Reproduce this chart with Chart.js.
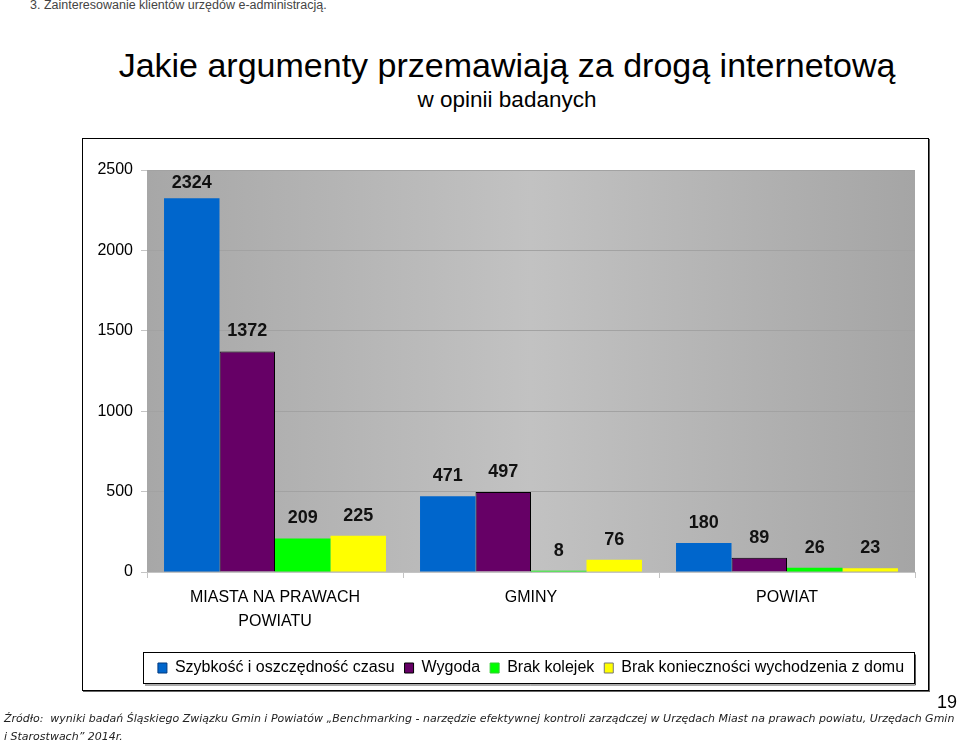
<!DOCTYPE html>
<html lang="pl">
<head>
<meta charset="utf-8">
<script src="https://cdn.jsdelivr.net/npm/chart.js@4"></script>
<style>
  html, body { margin:0; padding:0; background:#fff; width:960px; height:741px; overflow:hidden; }
  #wrap { position:absolute; left:0; top:0; width:960px; height:741px; }
  .txt { position:absolute; white-space:nowrap; }
  #header { left:30px; top:-2px; font:12.5px "Liberation Sans", Arial, sans-serif; color:#444; }
  #title { left:0; width:1014px; top:46px; text-align:center; font:34px "Liberation Sans", Arial, sans-serif; color:#000; }
  #subtitle { left:0; width:1014px; top:87px; text-align:center; font:22.5px "Liberation Sans", Arial, sans-serif; color:#000; }
  #frame { position:absolute; left:82px; top:138px; width:845px; height:551px; border:1px solid #000; box-shadow:1px 1px 0 #666; }
  #page { right:3px; top:692px; font:18px "Liberation Sans", Arial, sans-serif; color:#000; }
  #footer { left:4px; top:710px; font:italic 11px "DejaVu Sans", sans-serif; color:#222; line-height:18px; }
  canvas { position:absolute; left:0; top:0; }
</style>
</head>
<body>
<div id="wrap">
  <div id="frame"></div>
  <div class="txt" id="header">3. Zainteresowanie klientów urzędów e-administracją.</div>
  <div class="txt" id="title">Jakie argumenty przemawiają za drogą internetową</div>
  <div class="txt" id="subtitle">w opinii badanych</div>
  <canvas id="c" width="960" height="741"></canvas>
  <div class="txt" id="page">19</div>
  <div class="txt" id="footer">Źródło:&nbsp; wyniki badań Śląskiego Związku Gmin i Powiatów „Benchmarking - narzędzie efektywnej kontroli zarządczej w Urzędach Miast na prawach powiatu, Urzędach Gmin<br>i Starostwach” 2014r.</div>
</div>
<script>
const categories = [["MIASTA NA PRAWACH", "POWIATU"], "GMINY", "POWIAT"];
const seriesNames = ["Szybkość i oszczędność czasu", "Wygoda", "Brak kolejek", "Brak konieczności wychodzenia z domu"];
const szybkosc = [2324, 471, 180];
const wygoda = [1372, 497, 89];
const brakKolejek = [209, 8, 26];
const brakKoniecznosci = [225, 76, 23];
const yTicks = [0, 500, 1000, 1500, 2000, 2500];

const colors = ["#0066CC", "#660066", "#00FF00", "#FFFF00"];
const borders = ["#0066CC", "#000000", "#00FF00", "#FFFF00"];
const legendBorders = ["#003A80", "#000000", "#33CC33", "#777777"];
const seriesData = [szybkosc, wygoda, brakKolejek, brakKoniecznosci];

const FONT = '"Liberation Sans", Arial, sans-serif';

const bgPlugin = {
  id: 'bg',
  beforeDraw(chart) {
    const {ctx, chartArea: a} = chart;
    const g = ctx.createLinearGradient(a.left, 0, a.right, 0);
    g.addColorStop(0, '#a7a7a7');
    g.addColorStop(0.5, '#c2c2c2');
    g.addColorStop(1, '#a5a5a5');
    ctx.save();
    ctx.fillStyle = g;
    ctx.fillRect(a.left, a.top, a.right - a.left, a.bottom - a.top);
    ctx.restore();
  },
  afterDraw(chart) {
    const {ctx, chartArea: a} = chart;
    ctx.save();
    ctx.strokeStyle = '#000';
    ctx.lineWidth = 1;
    const top = 652.5, h = 31;
    ctx.strokeRect(a.left - 3.5, top, a.right - a.left + 3, h);
    ctx.strokeStyle = '#555';
    ctx.beginPath();
    ctx.moveTo(a.left - 2, top + h + 1.5);
    ctx.lineTo(a.right + 0.5, top + h + 1.5);
    ctx.lineTo(a.right + 0.5, top + 2);
    ctx.stroke();
    ctx.restore();
  }
};

const labelPlugin = {
  id: 'vals',
  afterDatasetsDraw(chart) {
    const {ctx, chartArea: a} = chart;
    ctx.save();
    ctx.font = 'bold 18px ' + FONT;
    ctx.fillStyle = '#111';
    ctx.textAlign = 'center';
    ctx.textBaseline = 'middle';
    chart.data.datasets.forEach((ds, i) => {
      const meta = chart.getDatasetMeta(i);
      meta.data.forEach((bar, j) => {
        const y = Math.max(bar.y - 20, a.top + 13);
        ctx.fillText(String(ds.data[j]), bar.x, y);
      });
    });
    ctx.restore();
  }
};

new Chart(document.getElementById('c'), {
  type: 'bar',
  data: {
    labels: categories,
    datasets: seriesNames.map((name, i) => ({
      label: name,
      data: seriesData[i],
      backgroundColor: colors[i],
      borderColor: borders[i],
      borderWidth: i === 1 ? 1 : 0,
      categoryPercentage: 0.867,
      barPercentage: 1.0
    }))
  },
  options: {
    responsive: false,
    animation: false,
    devicePixelRatio: 1,
    layout: { padding: { top: 170, left: 0, right: 45, bottom: 55 } },
    plugins: {
      title: { display: false },
      tooltip: { enabled: false },
      legend: {
        position: 'bottom',
        fullSize: false,
        labels: {
          font: { family: FONT, size: 16 },
          color: '#000',
          boxWidth: 9,
          boxHeight: 10,
          padding: 10,
          generateLabels(chart) {
            return chart.data.datasets.map((ds, i) => ({
              text: ds.label,
              fillStyle: colors[i],
              strokeStyle: legendBorders[i],
              lineWidth: 1,
              hidden: false,
              datasetIndex: i,
              fontColor: '#000'
            }));
          }
        }
      }
    },
    scales: {
      x: {
        grid: { display: true, drawOnChartArea: false, drawTicks: true, tickLength: 6, color: '#c4c4c4', offset: true },
        border: { display: true, color: '#c4c4c4' },
        ticks: { font: { family: FONT, size: 16, lineHeight: 1.5 }, color: '#000', padding: 8, maxRotation: 0 },
        afterFit(scale) { scale.height = 78; }
      },
      y: {
        min: 0, max: 2500,
        afterBuildTicks(scale) { scale.ticks = yTicks.map(v => ({ value: v })); },
        grid: { color: '#a2a2a2', tickColor: '#c4c4c4', tickLength: 6 },
        border: { display: false },
        ticks: { font: { family: FONT, size: 16 }, color: '#000', padding: 8, callback: (v) => String(v) },
        afterFit(scale) { scale.width = 147; }
      }
    }
  },
  plugins: [bgPlugin, labelPlugin]
});
</script>
</body>
</html>
